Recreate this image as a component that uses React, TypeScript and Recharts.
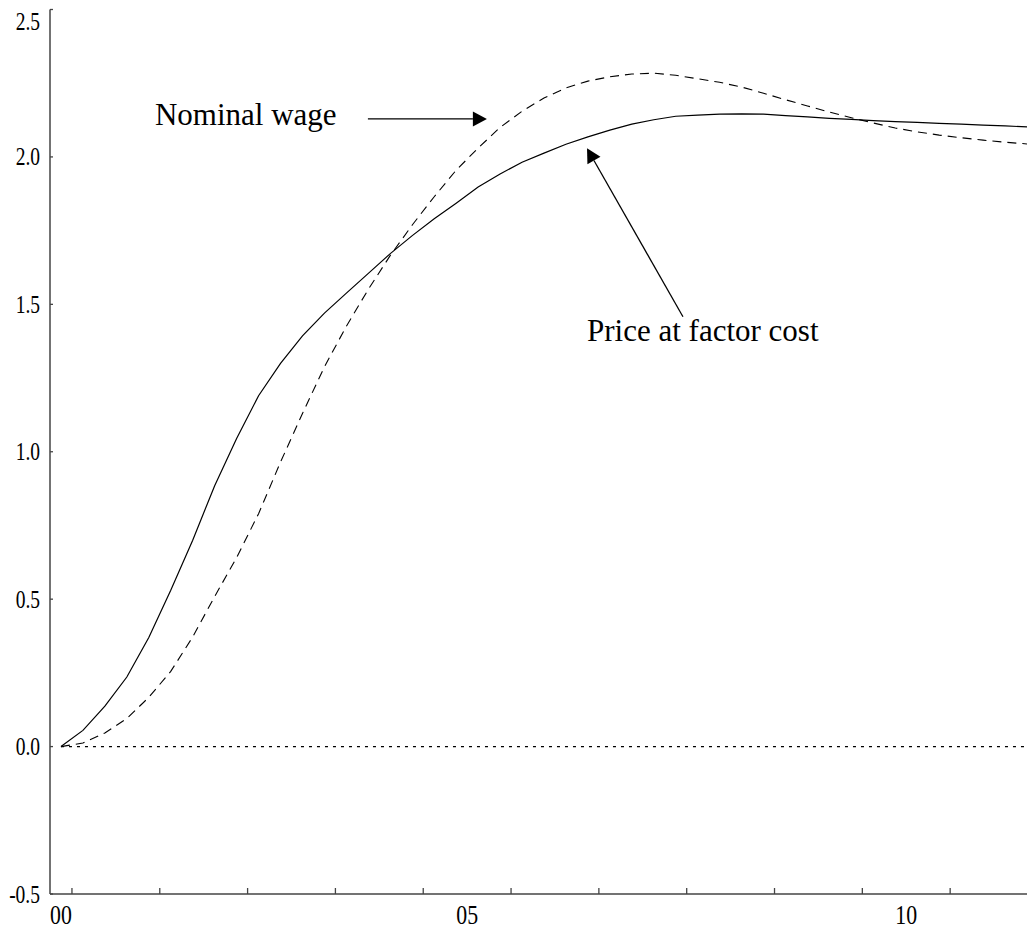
import React from 'react';
import { LineChart, Line, XAxis, YAxis, ReferenceLine, ReferenceDot } from 'recharts';

// Quarterly responses, 2000Q4 .. 2011Q4 (45 quarters)
const priceAtFactorCost = [
  0, 0.055, 0.137, 0.236, 0.37, 0.53, 0.7, 0.885, 1.045, 1.19, 1.3, 1.393, 1.47, 1.538, 1.605,
  1.672, 1.733, 1.79, 1.843, 1.898, 1.942, 1.982, 2.013, 2.043, 2.068, 2.091, 2.111, 2.126, 2.138,
  2.142, 2.145, 2.146, 2.145, 2.14, 2.136, 2.131, 2.127, 2.123, 2.12, 2.117, 2.114, 2.111, 2.108,
  2.105, 2.102,
];

const nominalWage = [
  0, 0.012, 0.046, 0.095, 0.167, 0.255, 0.372, 0.509, 0.641, 0.79, 0.965, 1.13, 1.288, 1.426, 1.551,
  1.666, 1.769, 1.865, 1.955, 2.03, 2.1, 2.155, 2.2, 2.234, 2.257, 2.272, 2.281, 2.284, 2.277,
  2.265, 2.253, 2.237, 2.216, 2.194, 2.173, 2.152, 2.133, 2.115, 2.098, 2.085, 2.074, 2.065, 2.057,
  2.05, 2.044,
];

// Axis ticks (x in quarter index, 0 = 2000Q4)
const yTicks = [-0.5, 0, 0.5, 1, 1.5, 2, 2.5];
const yearStartTicks = [0.5, 4.5, 8.5, 12.5, 16.5, 20.5, 24.5, 28.5, 32.5, 36.5, 40.5];
const yearLabelPositions = [0, 18.5, 38.5];
const yearLabelTexts = ['00', '05', '10'];

const data = priceAtFactorCost.map((v, i) => ({ q: i, price: v, wage: nominalWage[i] }));

const FONT = '"Liberation Serif", "Times New Roman", serif';
const AXIS_COLOR = '#444';

const XTick = (props: any) => {
  const { x, y, payload } = props;
  const idx = yearLabelPositions.indexOf(payload.value);
  if (idx >= 0) {
    return (
      <text
        transform={`translate(${x},${y + 29.5}) scale(0.78,1)`}
        textAnchor="middle"
        fontFamily={FONT}
        fontSize={28}
        fill="#000"
      >
        {yearLabelTexts[idx]}
      </text>
    );
  }
  return <line x1={x} x2={x} y1={y} y2={y - 6} stroke={AXIS_COLOR} strokeWidth={1.3} />;
};

const YTick = (props: any) => {
  const { x, y, payload } = props;
  const v = payload.value as number;
  const dy = v === 2.5 ? 20.5 : 8.5;
  return (
    <g>
      <line x1={x} x2={x + 3} y1={y} y2={y} stroke={AXIS_COLOR} strokeWidth={1.3} />
      <text
        transform={`translate(${x - 10},${y + dy}) scale(0.75,1)`}
        textAnchor="end"
        fontFamily={FONT}
        fontSize={26}
        fill="#000"
      >
        {v.toFixed(1)}
      </text>
    </g>
  );
};

const Arrow = (p: any) => {
  const { x1, y1, x2, y2 } = p;
  const ang = Math.atan2(y2 - y1, x2 - x1);
  const len = 14;
  const half = 7.5;
  const c = Math.cos(ang);
  const s = Math.sin(ang);
  const bx = x2 - len * c;
  const by = y2 - len * s;
  const pts = [
    [x2, y2],
    [bx - half * s, by + half * c],
    [bx + half * s, by - half * c],
  ]
    .map((pt) => pt.join(','))
    .join(' ');
  return (
    <g>
      <line x1={x1} y1={y1} x2={bx} y2={by} stroke="#000" strokeWidth={1.3} />
      <polygon points={pts} fill="#000" />
    </g>
  );
};

const annotationText = (label: string) => (p: any) => (
  <text x={p.cx} y={p.cy} fontFamily={FONT} fontSize={31} fill="#000">
    {label}
  </text>
);

export default function App() {
  return (
    <div style={{ position: 'absolute', left: 0, top: 0, background: '#fff' }}>
      <LineChart
        width={1027}
        height={930}
        data={data}
        margin={{ top: 9.5, right: 0, bottom: 0, left: 0 }}
      >
        <XAxis
          dataKey="q"
          type="number"
          domain={[-0.5, 44]}
          ticks={[...yearStartTicks, ...yearLabelPositions]}
          interval={0}
          tick={<XTick />}
          tickLine={false}
          tickSize={0}
          tickMargin={0}
          height={36}
          axisLine={{ stroke: AXIS_COLOR, strokeWidth: 1.5 }}
          allowDataOverflow
        />
        <YAxis
          type="number"
          domain={[-0.5, 2.5]}
          ticks={yTicks}
          interval={0}
          tick={<YTick />}
          tickLine={false}
          tickSize={0}
          tickMargin={0}
          width={50}
          axisLine={{ stroke: AXIS_COLOR, strokeWidth: 1.5 }}
          allowDataOverflow
        />
        <ReferenceLine
          segment={[
            { x: 0, y: 0 },
            { x: 44, y: 0 },
          ]}
          stroke="#000"
          strokeWidth={1.2}
          strokeDasharray="3 5"
        />
        <Line
          type="linear"
          dataKey="price"
          stroke="#000"
          strokeWidth={1.2}
          dot={false}
          activeDot={false}
          isAnimationActive={false}
        />
        <Line
          type="linear"
          dataKey="wage"
          stroke="#000"
          strokeWidth={1.1}
          strokeDasharray="9 6"
          dot={false}
          activeDot={false}
          isAnimationActive={false}
        />
        <ReferenceDot x={4.28} y={2.108} r={0} shape={annotationText('Nominal wage')} />
        <ReferenceLine
          segment={[
            { x: 13.98, y: 2.129 },
            { x: 19.4, y: 2.129 },
          ]}
          shape={Arrow}
        />
        <ReferenceDot x={23.96} y={1.374} r={0} shape={annotationText('Price at factor cost')} />
        <ReferenceLine
          segment={[
            { x: 28.33, y: 1.458 },
            { x: 23.96, y: 2.029 },
          ]}
          shape={Arrow}
        />
      </LineChart>
    </div>
  );
}
